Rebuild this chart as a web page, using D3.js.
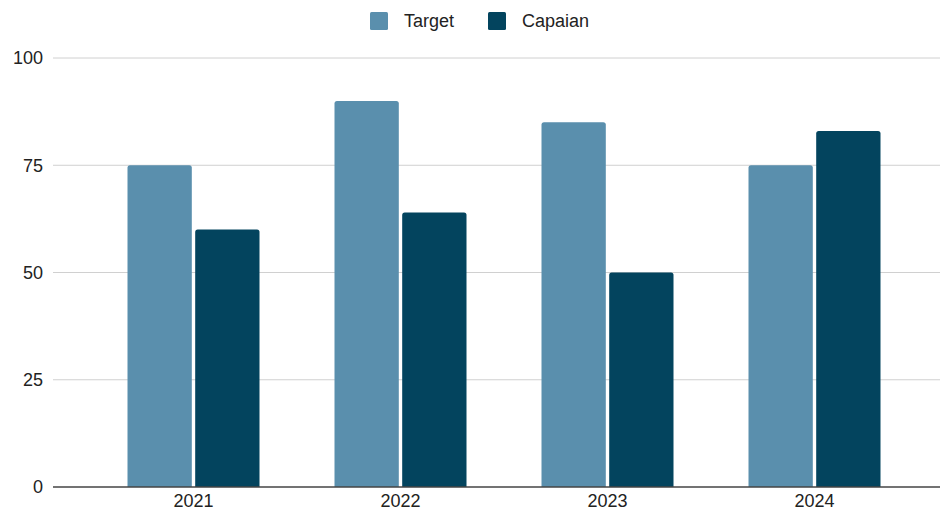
<!DOCTYPE html>
<html>
<head>
<meta charset="UTF-8">
<script src="https://d3js.org/d3.v7.min.js"></script>
<style>
  body { margin: 0; background: #fff; font-family: "Liberation Sans", Arial, sans-serif; }
  svg { display: block; }
</style>
</head>
<body>
<svg width="943" height="513"></svg>
<script>
  const years = ["2021", "2022", "2023", "2024"];
  const seriesNames = ["Target", "Capaian"];
  const target = [75, 90, 85, 75];
  const capaian = [60, 64, 50, 83];
  const yTicks = [0, 25, 50, 75, 100];
  const colors = ["#5a8fad", "#03445e"];

  const svg = d3.select("svg");
  const gridLeft = 53, gridRight = 940;
  const y = d3.scaleLinear().domain([0, 100]).range([487, 58]);
  const x = d3.scaleBand().domain(years).range([90, 918]);
  const inner = d3.scaleBand().domain(seriesNames).range([0, 132]).paddingInner(0.05);

  // grid
  svg.append("g").selectAll("line")
    .data(yTicks.filter(d => d > 0))
    .join("line")
    .attr("x1", gridLeft).attr("x2", gridRight)
    .attr("y1", d => y(d)).attr("y2", d => y(d))
    .attr("stroke", "#d0d0d0").attr("stroke-width", 1);

  // y labels
  svg.append("g").selectAll("text")
    .data(yTicks)
    .join("text")
    .attr("x", 43).attr("y", d => y(d))
    .attr("dy", "0.35em")
    .attr("text-anchor", "end")
    .attr("font-size", 18).attr("fill", "#222")
    .text(d => d);

  const rows = years.map((yr, i) => ({ year: yr, values: [target[i], capaian[i]] }));

  const groups = svg.append("g").selectAll("g")
    .data(rows)
    .join("g")
    .attr("transform", d => `translate(${x(d.year) + (x.bandwidth() - 132) / 2},0)`);

  groups.selectAll("path")
    .data(d => d.values.map((v, j) => ({ name: seriesNames[j], value: v, j })))
    .join("path")
    .attr("fill", d => colors[d.j])
    .attr("d", d => {
      const x0 = inner(d.name), w = inner.bandwidth();
      const top = y(d.value), bot = y(0), r = 2.5;
      return `M${x0},${bot}V${top + r}Q${x0},${top} ${x0 + r},${top}H${x0 + w - r}Q${x0 + w},${top} ${x0 + w},${top + r}V${bot}Z`;
    });

  // baseline
  svg.append("line")
    .attr("x1", gridLeft).attr("x2", gridRight)
    .attr("y1", y(0)).attr("y2", y(0))
    .attr("stroke", "#444").attr("stroke-width", 1.3);

  // x labels
  svg.append("g").selectAll("text")
    .data(years)
    .join("text")
    .attr("x", d => x(d) + x.bandwidth() / 2)
    .attr("y", 501).attr("dy", "0.35em")
    .attr("text-anchor", "middle")
    .attr("font-size", 18).attr("fill", "#222")
    .text(d => d);

  // legend
  const legendX = [370, 488];
  const legend = svg.append("g").selectAll("g")
    .data(seriesNames)
    .join("g")
    .attr("transform", (d, i) => `translate(${legendX[i]},12)`);
  legend.append("rect")
    .attr("width", 18).attr("height", 18).attr("rx", 1.5)
    .attr("fill", (d, i) => colors[i]);
  legend.append("text")
    .attr("x", 34).attr("y", 9).attr("dy", "0.35em")
    .attr("font-size", 18).attr("fill", "#222")
    .text(d => d);
</script>
</body>
</html>
